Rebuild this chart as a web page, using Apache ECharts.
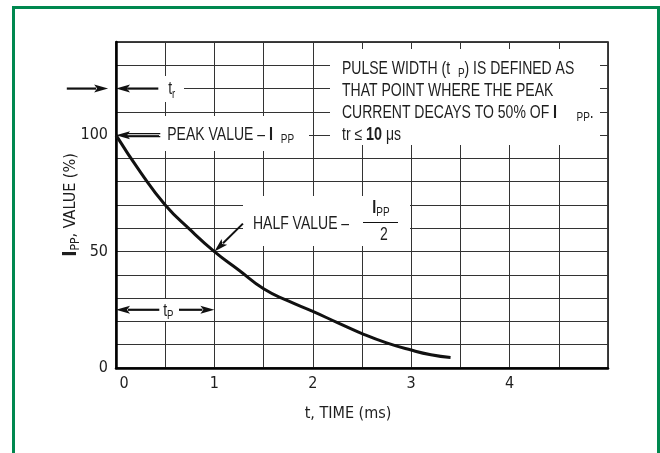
<!DOCTYPE html>
<html><head><meta charset="utf-8">
<script src="https://cdn.jsdelivr.net/npm/echarts@6/dist/echarts.min.js"></script>
<style>html,body{margin:0;padding:0;background:#fff}#c{width:660px;height:453px}</style>
</head><body><div id="c"></div>
<script>
// ---- data ----
const timeMs = [0, 0.25, 0.5, 0.75, 1.0, 1.25, 1.5, 1.75, 2.0, 2.25, 2.5, 2.75, 3.0, 3.2, 3.4];
const ippPct = [100, 84, 70, 59.5, 50, 42, 34, 28.8, 24.3, 19.5, 14.8, 10.8, 7.7, 5.7, 4.5];
const xTickLabels = ['0', '1', '2', '3', '4'];
const yTickLabels = ['0', '50', '100'];

const AXFONT = '"DejaVu Sans Condensed","Liberation Sans",sans-serif';
const FONT = '"Liberation Sans","Arimo",Arial,sans-serif';
const SX = 0.8;   // horizontal squeeze to imitate a condensed face
const TXT = '#1e1e1e';
const chart = echarts.init(document.getElementById('c'), null, {renderer: 'canvas'});

const option = {
  animation: false,
  backgroundColor: '#fff',
  grid: {left: 116, right: 52, top: 42, bottom: 85, show: true, borderColor: '#000', borderWidth: 1.5},
  xAxis: {
    type: 'value', min: 0, max: 5, interval: 0.5,
    axisLine: {show: true, onZero: false, lineStyle: {color: '#000', width: 2.5}},
    axisTick: {show: false},
    splitLine: {show: true, lineStyle: {color: '#333', width: 1}},
    axisLabel: {
      fontFamily: AXFONT, fontSize: 16, color: TXT, margin: 8,
      formatter: v => { const s = String(v); if (xTickLabels.indexOf(s) < 0) return ''; return s === '0' ? '{z|0}' : s; },
      rich: {z: {fontFamily: AXFONT, fontSize: 16, color: TXT, padding: [0, 0, 0, 16]}}
    },
    name: 't, TIME (ms)', nameLocation: 'middle', nameGap: 38, nameMoveOverlap: false,
    nameTextStyle: {fontFamily: AXFONT, fontSize: 16, color: TXT, padding: [0, 28, 0, 0]}
  },
  yAxis: {
    type: 'value', min: 0, max: 140, interval: 10,
    axisLine: {show: true, onZero: false, lineStyle: {color: '#000', width: 2.5}},
    axisTick: {show: false},
    splitLine: {show: true, lineStyle: {color: '#333', width: 1}},
    axisLabel: {
      fontFamily: AXFONT, fontSize: 16, color: TXT, margin: 8,
      formatter: v => (yTickLabels.indexOf(String(v)) >= 0 ? String(v) : '')
    },
    name: '{b|I}{s|PP}{n|, VALUE (%)}', nameLocation: 'middle', nameRotate: 90, nameGap: 34,
    nameMoveOverlap: false,
    nameTextStyle: {
      rich: {
        b: {fontFamily: AXFONT, fontSize: 19, fontWeight: 'bold', color: TXT, lineHeight: 22, verticalAlign: 'middle'},
        s: {fontFamily: AXFONT, fontSize: 12, color: TXT, lineHeight: 12, verticalAlign: 'bottom'},
        n: {fontFamily: AXFONT, fontSize: 16, color: TXT, lineHeight: 22, verticalAlign: 'middle'}
      }
    }
  },
  series: [{
    type: 'line',
    data: timeMs.map((t, i) => [t, ippPct[i]]),
    symbol: 'none', smooth: 0.5,
    lineStyle: {color: '#111', width: 3},
    z: 5
  }]
};
chart.setOption(option);

// ---- annotations (anchored in data coordinates) ----
const P = (x, y) => chart.convertToPixel({gridIndex: 0}, [x, y]);
const G = [];
function arrow(a, b, w) {
  const p1 = P(a[0], a[1]), p2 = P(b[0], b[1]);
  const dx = p2[0] - p1[0], dy = p2[1] - p1[1];
  const L = Math.hypot(dx, dy), ux = dx / L, uy = dy / L;
  const hl = 14, hw = 4;
  const bx = p2[0] - ux * hl, by = p2[1] - uy * hl;
  G.push({type: 'line', z: 110, shape: {x1: p1[0], y1: p1[1], x2: bx + ux * 2, y2: by + uy * 2},
    style: {stroke: '#111', lineWidth: w || 2}});
  G.push({type: 'polygon', z: 111, shape: {points: [[p2[0], p2[1]], [bx - uy * hw, by + ux * hw], [bx + ux * 3, by + uy * 3], [bx + uy * hw, by - ux * hw]]},
    style: {fill: '#111'}});
}
function box(x, y, w, h) {
  G.push({type: 'rect', z: 100, shape: {x: x, y: y, width: w, height: h}, style: {fill: '#fff'}});
}
const rich = {
  n: {fontFamily: FONT, fontSize: 17.5, color: TXT, lineHeight: 22, verticalAlign: 'middle'},
  b: {fontFamily: FONT, fontSize: 18, fontWeight: 'bold', color: TXT, lineHeight: 22, verticalAlign: 'middle'},
  s: {fontFamily: FONT, fontSize: 12.5, color: TXT, lineHeight: 14, verticalAlign: 'bottom'},
  r: {fontFamily: FONT, fontSize: 12, color: TXT, lineHeight: 11, verticalAlign: 'bottom'}
};
function text(x, y, str, align) {
  G.push({type: 'text', z: 112, x: x, y: y, scaleX: SX,
    style: {text: str, rich: rich, align: align || 'left', verticalAlign: 'middle', fill: TXT}});
}

// green frame
G.push({type: 'rect', z: 120, shape: {x: 13.5, y: 7.5, width: 645, height: 520}, style: {fill: 'none', stroke: '#00884f', lineWidth: 3}});

// white label backgrounds
box(157, 76, 27, 26);     // t_r
box(159, 116, 150, 35);   // PEAK VALUE
box(330, 49, 270, 96);    // definition text
box(243, 196, 167, 50);   // HALF VALUE
box(158, 299, 20, 22);    // t_P

// t_r arrows
arrow([-0.5, 120], [-0.08, 120], 2.2);
arrow([0.43, 120], [0, 120], 2.2);
const trp = P(0.53, 120);
text(trp[0], trp[1] + 1, '{n|t}{r|r}');

// peak value
const pk1 = P(0.45, 100);
G.push({type: 'line', z: 110, shape: {x1: pk1[0], y1: pk1[1] - 1.5, x2: pk1[0] - 35, y2: pk1[1] - 1.5}, style: {stroke: '#111', lineWidth: 1.3}});
G.push({type: 'line', z: 110, shape: {x1: pk1[0], y1: pk1[1] + 1.5, x2: pk1[0] - 35, y2: pk1[1] + 1.5}, style: {stroke: '#111', lineWidth: 1.3}});
arrow([0.12, 100], [0, 100], 2);
text(pk1[0] + 7, pk1[1], '{n|PEAK VALUE – }{b|I}{n|  }{s|PP}');

// definition text
text(342, 57 + 45, '{n|PULSE WIDTH (t  }{s|P}{n|) IS DEFINED AS}\n{n|THAT POINT WHERE THE PEAK}\n{n|CURRENT DECAYS TO 50% OF }{b|I}{n|     }{s|PP}{n|.}\n{n|tr ≤ }{b|10}{n| μs}');

// half value
arrow([1.29, 62], [1, 50], 2);
const hv = P(1.29, 62);
text(hv[0] + 10, hv[1] + 1, '{n|HALF VALUE –}');
text(381, 208.5, '{b|I}{s|PP}', 'center');
G.push({type: 'line', z: 112, shape: {x1: 363, y1: 222.5, x2: 398, y2: 222.5}, style: {stroke: '#111', lineWidth: 1.2}});
text(384, 235, '{n|2}', 'center');

// t_P arrows
arrow([0.44, 25], [0, 25], 2.2);
arrow([0.64, 25], [1, 25], 2.2);
const tpp = P(0.48, 25);
text(tpp[0], tpp[1] + 1, '{n|t}{r|P}');

chart.setOption({graphic: {elements: G}});
</script>
</body></html>
